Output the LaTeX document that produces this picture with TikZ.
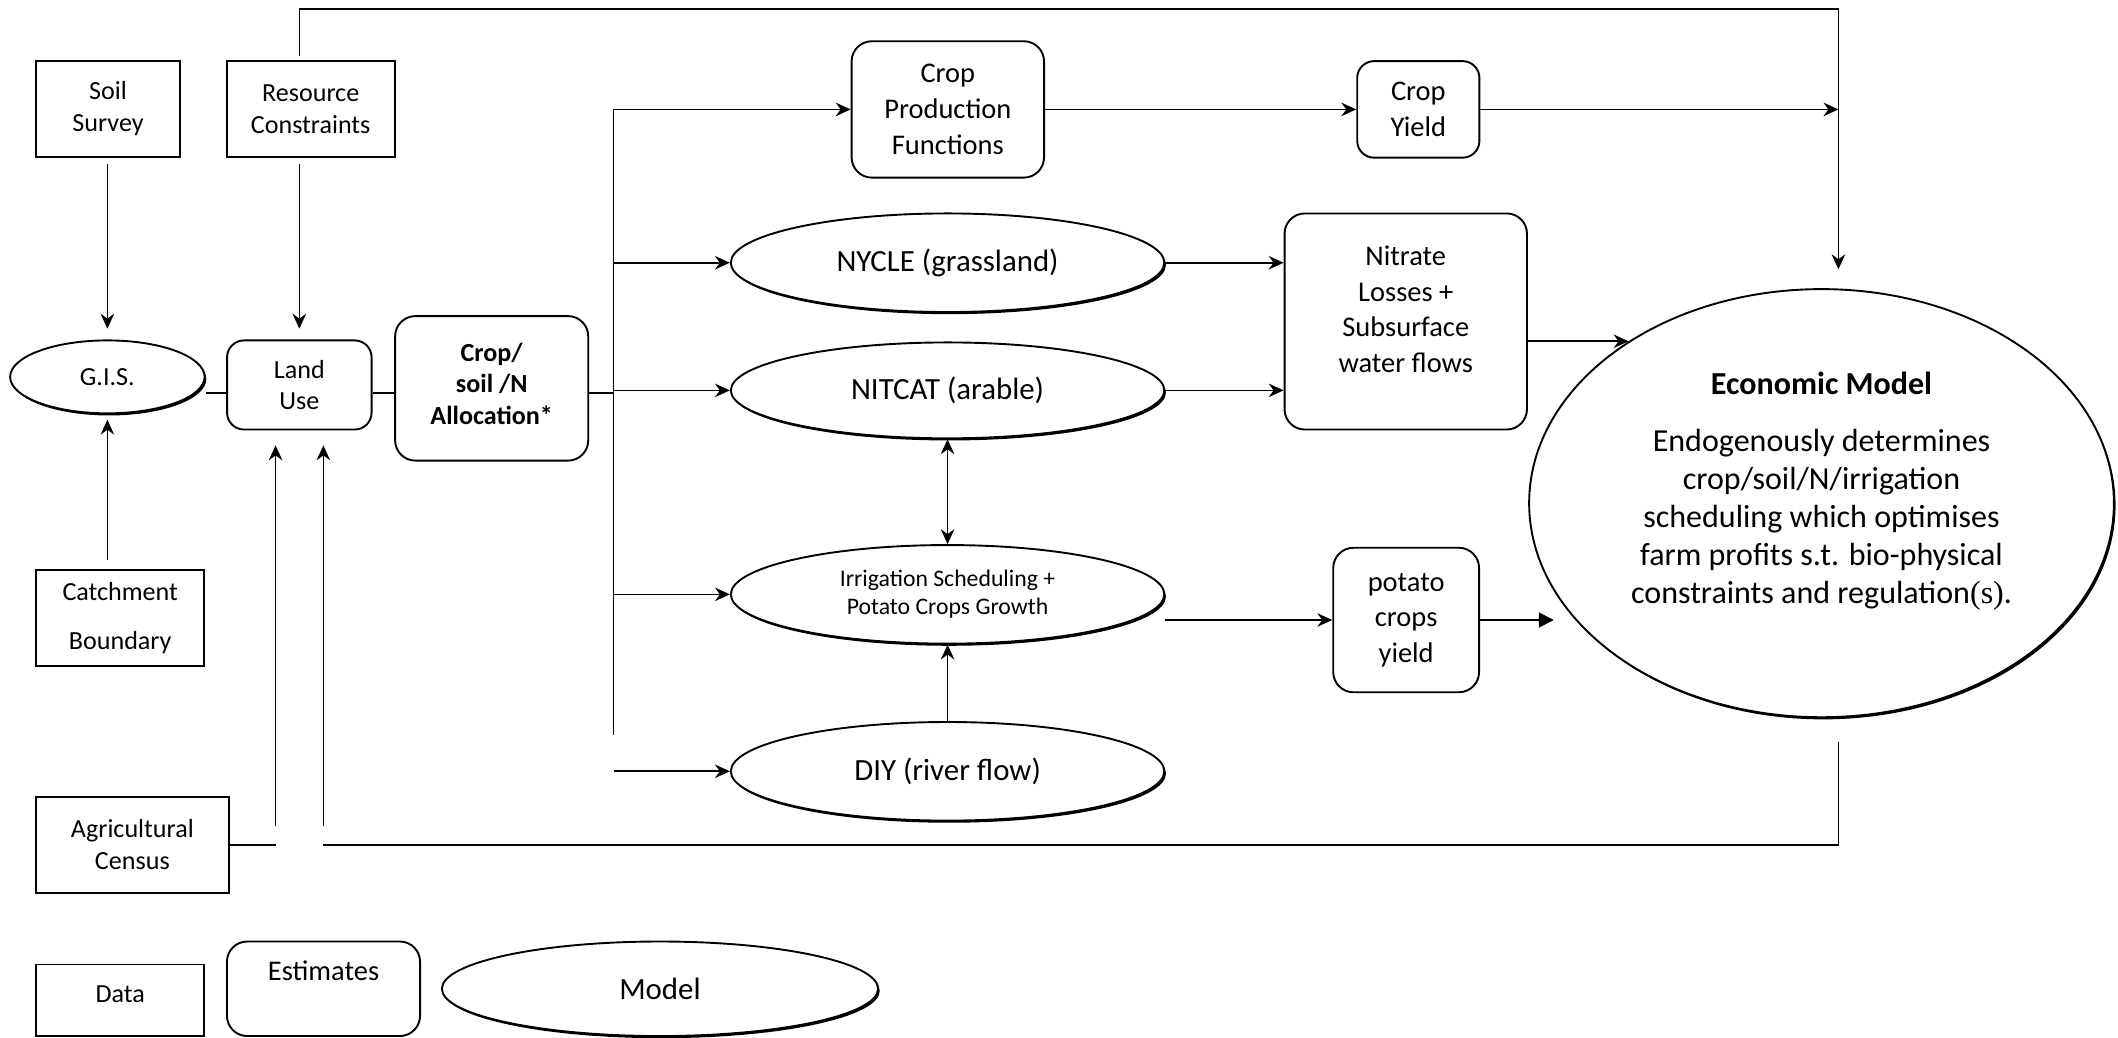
\documentclass[tikz,border=0pt]{standalone}
\usepackage{fontspec}
\setmainfont{Carlito}
\newfontfamily\timesfont{Liberation Serif}
\usetikzlibrary{calc, positioning}
\usetikzlibrary{arrows.meta}
\usetikzlibrary{shadows}
\usepgflibrary{shapes.geometric}
\tikzset{
    databox/.style = {
        draw, rectangle, thick, align=center, inner sep=0pt,
        font=\fontsize{11}{13.5}\selectfont
    },
    estbox/.style = {
        draw, rectangle, rounded corners=0.3cm, thick, align=center, inner sep=0pt,
        font=\fontsize{12}{15}\selectfont
    },
    modelell/.style = {
        draw, ellipse, thick, fill=white, align=center, inner sep=0pt,
        drop shadow={shadow xshift=0.7pt, shadow yshift=-0.9pt, opacity=1, fill=black},
        font=\fontsize{13}{16}\selectfont
    }
    }

\begin{document}
\begin{tikzpicture}[x=0.02cm, y=-0.02cm]
        \useasboundingbox (0,0) rectangle (1568,768);
        % Place the blocks
        \node[databox, minimum width=2.13cm, minimum height=1.42cm] (soil) at (80,80.5) {Soil\\Survey};
        \node[databox, minimum width=2.49cm, minimum height=1.42cm] (rescon) at (230,80.5) {Resource\\Constraints};
        \node[modelell, minimum width=2.88cm, minimum height=1.08cm, font=\fontsize{11}{13.5}\selectfont] (gis) at (79.5,279) {G.I.S.};
        \node[estbox, minimum width=2.14cm, minimum height=1.32cm, rounded corners=0.25cm, font=\fontsize{11}{13.3}\selectfont] (landuse) at (221.6,285) {Land\\Use};
        \node[estbox, minimum width=2.86cm, minimum height=2.14cm, font=\fontsize{11}{13.3}\selectfont\bfseries] (alloc) at (364,287.5) {Crop/\\soil /N\\Allocation*\\[-9.3pt]\mbox{}};
        \node[databox, minimum width=2.49cm, minimum height=1.42cm] (catch) at (89,457.5) {Catchment\\[7.5pt]Boundary};
        \node[databox, minimum width=2.85cm, minimum height=1.42cm] (agri) at (98,625.5) {Agricultural\\Census};

        \node[estbox, minimum width=2.85cm, minimum height=2.02cm] (cpf) at (701.7,81) {Crop\\Production\\Functions};
        \node[estbox, minimum width=1.81cm, minimum height=1.43cm, rounded corners=0.25cm] (cropyield) at (1050,81) {Crop\\Yield};
        \node[modelell, minimum width=6.42cm, minimum height=1.46cm] (nycle) at (701.5,194.5) {NYCLE (grassland)};
        \node[modelell, minimum width=6.42cm, minimum height=1.42cm] (nitcat) at (701.5,289) {NITCAT (arable)};
        \node[modelell, minimum width=6.42cm, minimum height=1.46cm, font=\fontsize{10}{12}\selectfont] (irrig) at (701.5,440) {Irrigation Scheduling +\\Potato Crops Growth};
        \node[modelell, minimum width=6.42cm, minimum height=1.46cm] (diy) at (701.5,571) {DIY (river flow)};
        \node[estbox, minimum width=3.59cm, minimum height=3.2cm] (nitrate) at (1040.7,238) {Nitrate\\Losses +\\Subsurface\\water flows\\[-4.8pt]\mbox{}};
        \node[estbox, minimum width=2.16cm, minimum height=2.14cm] (potato) at (1041,459) {potato\\crops\\yield};
        \node[modelell, minimum width=8.66cm, minimum height=6.34cm, font=\fontsize{13.5}{16}\selectfont] (econ) at (1348.5,372.5)
            {\textbf{Economic Model}\\[8.4pt]Endogenously determines\\crop/soil/N/irrigation\\scheduling which optimises\\farm profits s.t. bio-physical\\constraints and regulation{\timesfont(s)}.\\[-3pt]\mbox{}};

        % Key
        \node[databox, minimum width=2.49cm, minimum height=1.06cm] (data) at (89,740.5) {Data\\[-8.5pt]\mbox{}};
        \node[estbox, minimum width=2.86cm, minimum height=1.4cm] (est) at (239.5,732) {Estimates\\\mbox{}};
        \node[modelell, minimum width=6.46cm, minimum height=1.4cm] (model) at (488.6,732) {Model};

        \coordinate (row) at (0,291);
        \coordinate (tk) at ($(alloc.east |- row)+(18,0)$);
        \coordinate (tkend) at ($(tk)+(0,253)$);
        \coordinate (topright) at (1361,6.5);
        \coordinate (lu1) at ($(landuse.south)+(-17.6,0)$);
        \coordinate (lu2) at ($(landuse.south)+(17.8,0)$);
        \coordinate (agribend) at (agri.east -| lu1);
        \coordinate (econbend) at (topright |- agribend);

        \begin{scope}[line width=0.7pt, >={Stealth[length=2.2mm,width=2mm]}]
            \draw[->, shorten <=0.1cm, shorten >=0.16cm] (soil.south -| gis) -- (gis.north);
            \draw[->, shorten <=0.1cm, shorten >=0.16cm] (rescon.south -| landuse) -- (landuse.north);
            \draw[->, shorten <=0.14cm, shorten >=0.08cm] (catch.north -| gis) -- (gis.south);
            \draw (gis.east |- row) -- (landuse.west |- row);
            \draw (landuse.east |- row) -- (alloc.west |- row);
            \draw (alloc.east |- row) -- (tk);
            \draw (tk |- cpf.west) -- (tkend);
            \foreach \m in {cpf, nycle, nitcat, irrig}
                \draw[->] (tk |- \m.west) -- (\m.west);
            \draw[->] (tkend |- diy.west) -- (diy.west);
            \draw[->] (cpf) -- (cropyield);
            \draw[->] (cropyield) -- (cropyield -| topright);
            \draw[->, shorten <=0.06cm, shorten >=0.28cm] (rescon.north -| landuse) |- (topright) -- (topright |- econ.north);
            \draw[->] (nycle.east) -- (nycle.east -| nitrate.west);
            \draw[->] (nitcat.east) -- (nitcat.east -| nitrate.west);
            \draw[->] (nitrate.east |- econ.140) -- (econ.140);
            \draw[<->] (nitcat.south) -- (irrig.north);
            \draw[->] (diy.north) -- (irrig.south);
            \draw[->] (irrig.east |- potato.west) -- (potato.west);
            \draw[-{Triangle[length=2.2mm,width=2.2mm]}, shorten >=0.3cm] (potato.east) -- (potato.east -| econ.205);
            % feedback to land use
            \draw (agri.east) -- (agribend);
            \draw[->, shorten >=0.22cm] ($(agribend)+(0,-14)$) -- (lu1);
            \draw[shorten <=0.36cm] (econ.south -| topright) -- (econbend) -- (econbend -| lu2);
            \draw[->, shorten >=0.22cm] ($(econbend -| lu2)+(0,-14)$) -- (lu2);
        \end{scope}
    \end{tikzpicture}
\end{document}
